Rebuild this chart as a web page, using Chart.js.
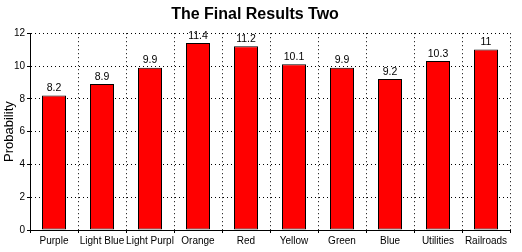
<!DOCTYPE html>
<html>
<head>
<meta charset="utf-8">
<script src="https://cdn.jsdelivr.net/npm/chart.js@4/dist/chart.umd.min.js"></script>
<style>
  body { margin: 0; background: #fff; }
  canvas { display: block; }
</style>
</head>
<body>
<canvas id="bars" width="522" height="252"></canvas>
<script>
var categories = ['Purple', 'Light Blue', 'Light Purpl', 'Orange', 'Red', 'Yellow', 'Green', 'Blue', 'Utilities', 'Railroads'];
var values = [8.2, 8.9, 9.9, 11.4, 11.2, 10.1, 9.9, 9.2, 10.3, 11];
var yTicks = [0, 2, 4, 6, 8, 10, 12];

// write the value above each bar, and redraw the solid axis lines
var valueLabels = {
    id: 'valueLabels',
    afterDatasetsDraw: function (chart) {
        var ctx = chart.ctx;
        var area = chart.chartArea;
        var meta = chart.getDatasetMeta(0);
        ctx.save();
        ctx.strokeStyle = '#000';
        ctx.lineWidth = 1;
        ctx.setLineDash([]);
        ctx.beginPath();
        ctx.moveTo(Math.round(area.left) + 0.5, area.top);
        ctx.lineTo(Math.round(area.left) + 0.5, Math.round(area.bottom) + 0.5);
        ctx.lineTo(area.right, Math.round(area.bottom) + 0.5);
        ctx.stroke();
        ctx.font = '10.5px "Liberation Sans", Arial, sans-serif';
        ctx.fillStyle = '#000';
        ctx.textAlign = 'center';
        ctx.textBaseline = 'bottom';
        meta.data.forEach(function (bar, i) {
            ctx.fillText(String(values[i]), bar.x, bar.y - 2);
        });
        ctx.restore();
    }
};

var ctx = document.getElementById('bars').getContext('2d');
var myChart = new Chart(ctx, {
    type: 'bar',
    data: {
        labels: categories,
        datasets: [{
            label: 'Probability',
            data: values,
            backgroundColor: '#ff0000',
            borderColor: '#000000',
            borderWidth: 1,
            borderSkipped: false,
            categoryPercentage: 1,
            barPercentage: 0.5
        }]
    },
    options: {
        responsive: false,
        animation: false,
        layout: { padding: { left: 0, right: 12, top: 0, bottom: 0 } },
        plugins: {
            legend: { display: false },
            tooltip: { enabled: false },
            title: {
                display: true,
                text: 'The Final Results Two',
                color: '#000',
                font: { family: '"Liberation Sans", Arial, sans-serif', size: 16, weight: 'bold' },
                padding: { top: 5, bottom: 9 }
            }
        },
        scales: {
            x: {
                grid: {
                    offset: true,
                    color: '#000',
                    tickLength: 3,
                    tickBorderDash: [],
                    tickColor: '#000'
                },
                border: { display: true, color: '#000', width: 1, dash: [1, 3] },
                ticks: {
                    color: '#000',
                    padding: 2,
                    maxRotation: 0,
                    autoSkip: false,
                    font: { family: '"Liberation Sans", Arial, sans-serif', size: 10 }
                },
                afterFit: function (scale) { scale.height = 22; }
            },
            y: {
                min: 0,
                max: 12,
                afterBuildTicks: function (scale) {
                    scale.ticks = yTicks.map(function (v) { return { value: v }; });
                },
                grid: {
                    color: '#000',
                    tickLength: 3,
                    tickBorderDash: [],
                    tickColor: '#000'
                },
                border: { display: true, color: '#000', width: 1, dash: [1, 3] },
                ticks: {
                    color: '#000',
                    padding: 2,
                    font: { family: '"Liberation Sans", Arial, sans-serif', size: 10 }
                },
                title: {
                    display: true,
                    text: 'Probability',
                    color: '#000',
                    padding: { top: 2, bottom: 0 },
                    font: { family: '"Liberation Sans", Arial, sans-serif', size: 13 }
                },
                afterFit: function (scale) { scale.width = 30; }
            }
        }
    },
    plugins: [valueLabels]
});
</script>
</body>
</html>
